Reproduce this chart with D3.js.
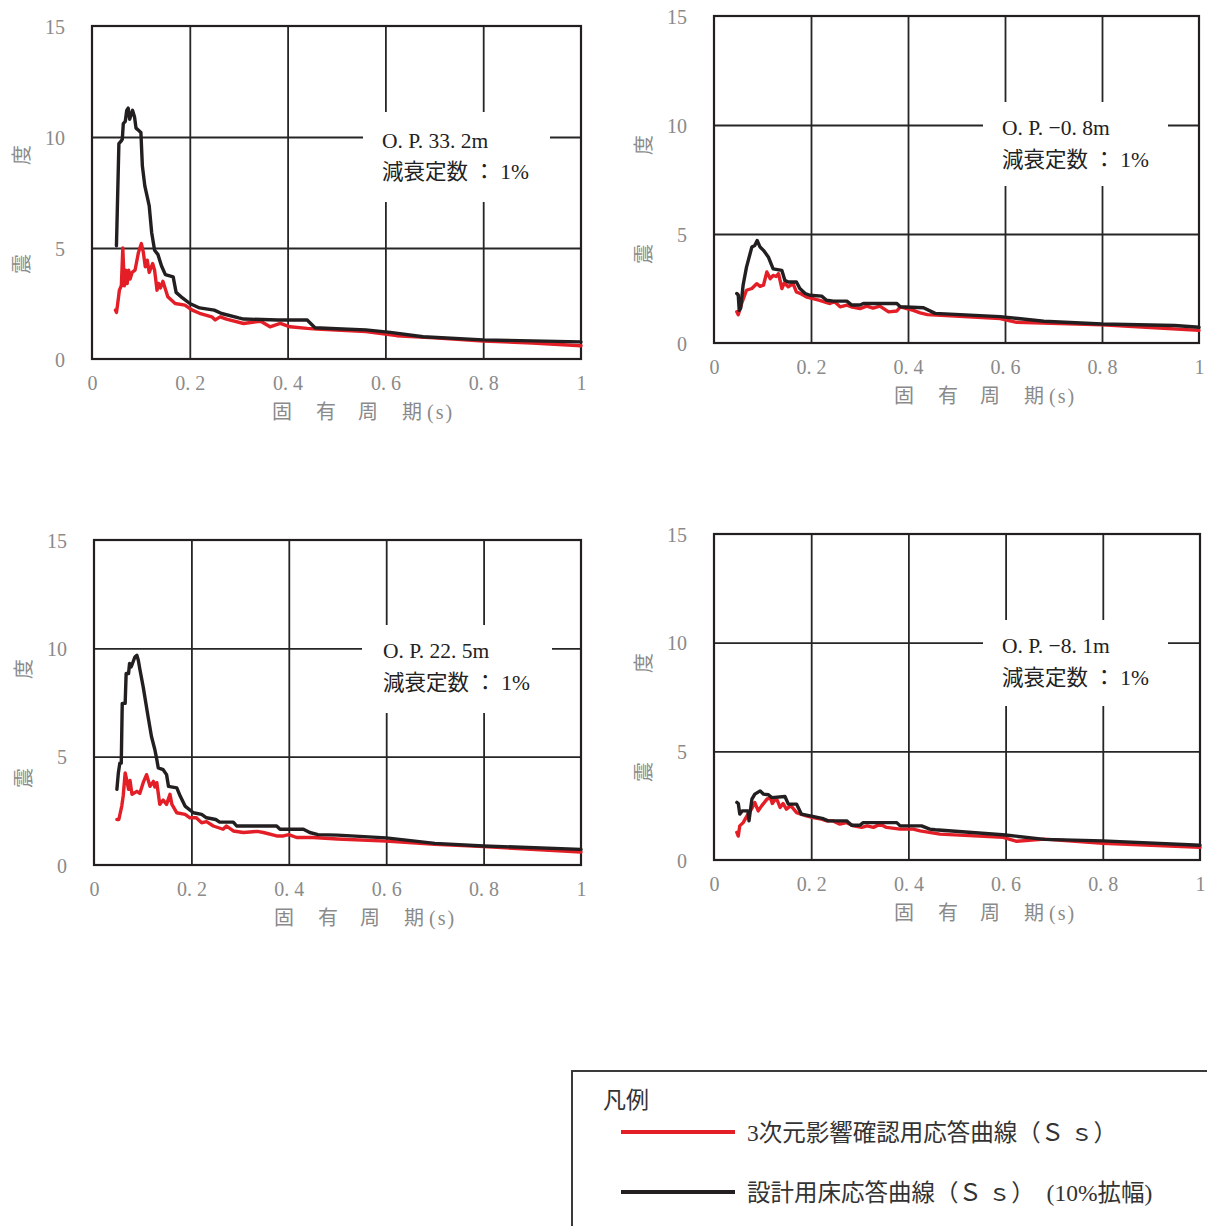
<!DOCTYPE html>
<html><head><meta charset="utf-8">
<script src="https://cdn.jsdelivr.net/npm/d3@7"></script>
<style>
html,body{margin:0;padding:0;background:#fff;}
svg{display:block;}
text{font-family:"Liberation Serif","DejaVu Serif","Noto Sans CJK JP",serif;}
</style></head>
<body>
<svg id="chart" width="1207" height="1226"></svg>
<script>
// ---- data ----
const xTicks = [0, 0.2, 0.4, 0.6, 0.8, 1];
const xTickLabels = ["0", "0. 2", "0. 4", "0. 6", "0. 8", "1"];
const yTicks = [0, 5, 10, 15];
const yTickLabels = ["0", "5", "10", "15"];
const panelTitles = ["O. P. 33. 2m", "O. P. −0. 8m", "O. P. 22. 5m", "O. P. −8. 1m"];
const dampingLabel = "減衰定数 ： 1%";
const xAxisTitle = ["固", "有", "周", "期", "(s)"];
const yAxisTitle = ["震", "度"];
const legendTitle = "凡例";
const seriesNames = ["3次元影響確認用応答曲線（Ｓ ｓ）", "設計用床応答曲線（Ｓ ｓ）　(10%拡幅)"];

// [period (s), seismic intensity]
const op332Red = [[0.048,2.2],[0.050,2.1],[0.052,2.4],[0.056,3.1],[0.060,3.3],[0.063,5.0],[0.066,3.3],[0.069,4.0],[0.072,3.4],[0.075,4.0],[0.078,3.6],[0.082,3.9],[0.088,4.0],[0.095,4.8],[0.101,5.2],[0.105,4.8],[0.109,4.15],[0.113,4.45],[0.117,3.9],[0.124,4.3],[0.128,4.0],[0.133,3.1],[0.136,3.4],[0.140,3.2],[0.145,3.5],[0.155,2.8],[0.170,2.5],[0.190,2.43],[0.205,2.2],[0.220,2.06],[0.245,1.9],[0.252,1.76],[0.262,1.9],[0.275,1.8],[0.310,1.6],[0.335,1.68],[0.345,1.7],[0.364,1.45],[0.385,1.6],[0.405,1.45],[0.440,1.38],[0.460,1.35],[0.500,1.3],[0.560,1.24],[0.623,1.05],[0.700,0.95],[0.800,0.81],[0.900,0.72],[1.000,0.6]];
const op332Black = [[0.050,5.1],[0.051,6.0],[0.055,9.7],[0.059,9.8],[0.062,9.9],[0.064,10.6],[0.068,10.7],[0.071,11.2],[0.074,11.3],[0.077,10.8],[0.080,11.0],[0.083,11.2],[0.087,10.9],[0.090,10.4],[0.095,10.3],[0.100,10.2],[0.103,8.7],[0.108,7.8],[0.113,7.3],[0.117,6.9],[0.122,5.7],[0.128,4.9],[0.135,4.7],[0.142,4.2],[0.150,3.8],[0.166,3.7],[0.172,3.0],[0.185,2.75],[0.200,2.5],[0.220,2.3],[0.250,2.2],[0.265,2.05],[0.300,1.85],[0.310,1.8],[0.380,1.76],[0.440,1.76],[0.456,1.41],[0.500,1.36],[0.560,1.31],[0.610,1.2],[0.677,1.0],[0.800,0.86],[1.000,0.77]];
const opm08Red = [[0.047,1.43],[0.050,1.3],[0.057,1.81],[0.067,2.42],[0.078,2.5],[0.088,2.72],[0.095,2.6],[0.102,2.65],[0.109,3.26],[0.116,2.95],[0.122,3.1],[0.128,3.05],[0.133,3.18],[0.140,2.5],[0.145,2.75],[0.153,2.58],[0.163,2.72],[0.170,2.34],[0.180,2.25],[0.191,2.11],[0.204,2.04],[0.218,1.96],[0.239,1.81],[0.248,1.9],[0.260,1.66],[0.274,1.74],[0.285,1.65],[0.301,1.58],[0.315,1.69],[0.328,1.6],[0.342,1.69],[0.360,1.43],[0.377,1.47],[0.384,1.66],[0.411,1.5],[0.425,1.38],[0.440,1.3],[0.590,1.12],[0.624,0.95],[0.800,0.84],[1.000,0.58]];
const opm08Black = [[0.047,2.27],[0.050,2.2],[0.052,1.5],[0.055,1.6],[0.060,2.65],[0.067,3.48],[0.078,4.4],[0.084,4.47],[0.089,4.7],[0.095,4.4],[0.102,4.25],[0.112,3.95],[0.119,3.56],[0.122,3.4],[0.140,3.33],[0.146,2.88],[0.153,2.8],[0.170,2.8],[0.177,2.5],[0.188,2.27],[0.198,2.19],[0.222,2.15],[0.232,1.96],[0.246,1.92],[0.274,1.92],[0.284,1.74],[0.301,1.74],[0.308,1.81],[0.377,1.81],[0.384,1.66],[0.432,1.62],[0.456,1.36],[0.590,1.21],[0.680,1.0],[0.800,0.87],[0.950,0.8],[1.000,0.72]];
const op225Red = [[0.047,2.1],[0.051,2.1],[0.057,2.72],[0.060,3.2],[0.064,4.25],[0.067,3.94],[0.071,3.49],[0.074,3.9],[0.078,3.26],[0.088,3.4],[0.094,3.3],[0.101,3.8],[0.108,4.17],[0.115,3.63],[0.122,3.86],[0.125,3.6],[0.129,3.8],[0.135,2.8],[0.142,3.0],[0.149,2.8],[0.156,3.26],[0.160,2.8],[0.170,2.41],[0.187,2.34],[0.197,2.18],[0.210,2.18],[0.221,1.95],[0.231,2.0],[0.245,1.8],[0.265,1.65],[0.272,1.8],[0.286,1.57],[0.307,1.5],[0.335,1.55],[0.348,1.5],[0.375,1.34],[0.389,1.34],[0.400,1.4],[0.416,1.27],[0.450,1.27],[0.500,1.2],[0.600,1.1],[0.700,0.95],[0.800,0.85],[1.000,0.6]];
const op225Black = [[0.047,3.49],[0.050,4.25],[0.053,4.7],[0.056,4.7],[0.058,7.46],[0.064,7.46],[0.066,8.84],[0.071,8.84],[0.073,9.3],[0.076,9.14],[0.079,9.3],[0.084,9.6],[0.088,9.68],[0.091,9.45],[0.094,9.06],[0.101,8.22],[0.111,6.85],[0.118,5.93],[0.125,5.32],[0.129,4.86],[0.132,4.48],[0.142,4.4],[0.149,4.17],[0.153,3.63],[0.170,3.56],[0.177,3.18],[0.187,2.72],[0.204,2.41],[0.221,2.34],[0.231,2.18],[0.250,2.1],[0.258,1.98],[0.286,1.98],[0.293,1.8],[0.375,1.8],[0.382,1.65],[0.430,1.65],[0.443,1.5],[0.460,1.4],[0.500,1.38],[0.600,1.25],[0.700,1.0],[0.800,0.88],[1.000,0.72]];
const opm81Red = [[0.047,1.27],[0.050,1.1],[0.053,1.57],[0.060,1.72],[0.070,2.11],[0.077,2.34],[0.084,2.64],[0.091,2.26],[0.098,2.49],[0.109,2.8],[0.116,2.87],[0.120,2.6],[0.126,2.8],[0.130,2.75],[0.136,2.42],[0.142,2.6],[0.149,2.34],[0.158,2.5],[0.170,2.18],[0.180,2.1],[0.190,2.03],[0.204,1.95],[0.218,1.9],[0.232,1.8],[0.245,1.8],[0.259,1.65],[0.273,1.72],[0.287,1.57],[0.304,1.5],[0.315,1.57],[0.328,1.5],[0.342,1.65],[0.355,1.5],[0.383,1.42],[0.410,1.42],[0.424,1.34],[0.465,1.19],[0.595,1.04],[0.623,0.86],[0.680,0.96],[0.800,0.77],[1.000,0.58]];
const opm81Black = [[0.047,2.65],[0.050,2.6],[0.053,2.11],[0.058,2.26],[0.070,2.26],[0.072,1.8],[0.078,2.8],[0.084,3.03],[0.095,3.18],[0.102,3.03],[0.112,3.0],[0.119,2.87],[0.146,2.92],[0.153,2.57],[0.170,2.57],[0.180,2.11],[0.198,2.03],[0.215,1.95],[0.225,1.9],[0.235,1.8],[0.273,1.8],[0.283,1.6],[0.300,1.6],[0.307,1.72],[0.376,1.72],[0.383,1.57],[0.427,1.57],[0.444,1.42],[0.455,1.39],[0.600,1.15],[0.680,0.95],[0.800,0.88],[1.000,0.68]];

const panelRed = [op332Red, opm08Red, op225Red, opm81Red];
const panelBlack = [op332Black, opm08Black, op225Black, opm81Black];

// ---- layout & style ----
const RED = "#e41e26", BLACK = "#231f20", TICKCOL = "#8a8a8a";
const SERIF = '"Liberation Serif","DejaVu Serif",serif';
const layout = [
  {l:92,  r:581,  t:26,  b:359, box:[363,112,550,202], tx:382,  ty:[148,179]},
  {l:714, r:1199, t:16,  b:343, box:[983,102,1168,186], tx:1002, ty:[135,167]},
  {l:94,  r:581,  t:540, b:865, box:[362,625,552,713], tx:383,  ty:[658,690]},
  {l:714, r:1200, t:534, b:860, box:[983,620,1168,706], tx:1002, ty:[653,685]}
];

const svg = d3.select("#chart");

layout.forEach((p, i) => {
  const x = d3.scaleLinear().domain([0, 1]).range([p.l, p.r]);
  const y = d3.scaleLinear().domain([0, 15]).range([p.b, p.t]);
  const g = svg.append("g");

  // grid
  g.append("g").attr("transform", `translate(0,${p.b})`)
    .call(d3.axisBottom(x).tickValues(xTicks.slice(1, -1)).tickSize(-(p.b - p.t)).tickFormat(""))
    .call(s => s.select(".domain").remove())
    .call(s => s.selectAll("line").attr("stroke", "#262626").attr("stroke-width", 1.8));
  g.append("g").attr("transform", `translate(${p.l},0)`)
    .call(d3.axisLeft(y).tickValues(yTicks.slice(1, -1)).tickSize(-(p.r - p.l)).tickFormat(""))
    .call(s => s.select(".domain").remove())
    .call(s => s.selectAll("line").attr("stroke", "#262626").attr("stroke-width", 1.8));

  // white label box
  g.append("rect").attr("x", p.box[0]).attr("y", p.box[1])
    .attr("width", p.box[2] - p.box[0]).attr("height", p.box[3] - p.box[1]).attr("fill", "#fff");

  // frame
  g.append("rect").attr("x", p.l).attr("y", p.t).attr("width", p.r - p.l).attr("height", p.b - p.t)
    .attr("fill", "none").attr("stroke", BLACK).attr("stroke-width", 2.2);

  // tick labels
  g.append("g").attr("transform", `translate(0,${p.b})`)
    .call(d3.axisBottom(x).tickValues(xTicks).tickSize(0).tickFormat((d, k) => xTickLabels[k]))
    .call(s => s.select(".domain").remove())
    .call(s => s.selectAll("text").attr("y", 24).attr("dy", "0.35em")
      .attr("font-size", 20).attr("fill", TICKCOL).attr("font-family", SERIF));
  g.append("g").attr("transform", `translate(${p.l},0)`)
    .call(d3.axisLeft(y).tickValues(yTicks).tickSize(0).tickFormat((d, k) => yTickLabels[k]))
    .call(s => s.select(".domain").remove())
    .call(s => s.selectAll("text").attr("x", -27).attr("dy", "0.35em")
      .attr("font-size", 20).attr("fill", TICKCOL).attr("font-family", SERIF));

  // axis titles
  const xOff = [0, 44, 86, 130, 155];
  xAxisTitle.forEach((c, k) => {
    g.append("text").attr("x", p.l + 180 + xOff[k]).attr("y", p.b + 53).attr("dy", "0.35em")
      .attr("font-size", 20).attr("fill", TICKCOL).attr("letter-spacing", k === 4 ? 2 : 0).text(c);
  });
  const yTitleX = p.l - 70;
  [[yAxisTitle[0], p.t + 238], [yAxisTitle[1], p.t + 129]].forEach(([c, cy]) => {
    g.append("text").attr("transform", `translate(${yTitleX},${cy}) rotate(-90)`)
      .attr("text-anchor", "middle").attr("dy", "0.35em")
      .attr("font-size", 20).attr("fill", TICKCOL).text(c);
  });

  // curves
  const line = d3.line().x(d => x(d[0])).y(d => y(d[1]));
  g.append("path").datum(panelRed[i]).attr("d", line).attr("fill", "none")
    .attr("stroke", RED).attr("stroke-width", 3.4).attr("stroke-linejoin", "round").attr("stroke-linecap", "round");
  g.append("path").datum(panelBlack[i]).attr("d", line).attr("fill", "none")
    .attr("stroke", BLACK).attr("stroke-width", 3.4).attr("stroke-linejoin", "round").attr("stroke-linecap", "round");

  // annotation
  g.append("text").attr("x", p.tx).attr("y", p.ty[0]).attr("font-size", 21.5).attr("fill", "#222").text(panelTitles[i]);
  g.append("text").attr("x", p.tx).attr("y", p.ty[1]).attr("font-size", 21.5).attr("fill", "#222").text(dampingLabel);
});

// legend
const lg = svg.append("g");
lg.append("rect").attr("x", 572).attr("y", 1071).attr("width", 700).attr("height", 200)
  .attr("fill", "#fff").attr("stroke", "#3a3a3a").attr("stroke-width", 2);
lg.append("text").attr("x", 603).attr("y", 1100).attr("dy", "0.35em").attr("font-size", 23).attr("fill", "#333").text(legendTitle);
const legendY = [1132, 1192];
const legendCol = [RED, BLACK];
seriesNames.forEach((nm, k) => {
  lg.append("line").attr("x1", 621).attr("x2", 735).attr("y1", legendY[k]).attr("y2", legendY[k])
    .attr("stroke", legendCol[k]).attr("stroke-width", 4);
  lg.append("text").attr("x", 747).attr("y", legendY[k] + 1).attr("dy", "0.35em")
    .attr("font-size", 23.5).attr("fill", "#333").text(nm);
});
</script>
</body></html>
